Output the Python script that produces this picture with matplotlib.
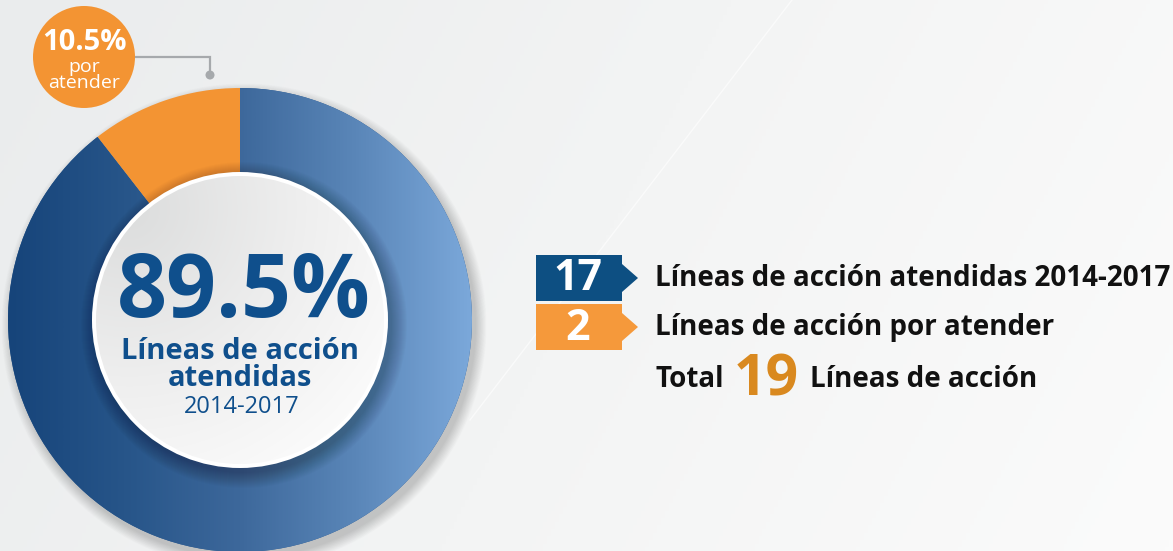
import numpy as np
import matplotlib
matplotlib.use("Agg")
import matplotlib.pyplot as plt
from matplotlib.patches import Circle, Polygon
from matplotlib.colors import LinearSegmentedColormap

plt.rcParams['font.family'] = ['Open Sans', 'DejaVu Sans']

# data
labels = ["Líneas de acción atendidas 2014-2017", "Líneas de acción por atender"]
counts = [17, 2]
center_title = ["Líneas de acción", "atendidas"]
period = "2014-2017"
badge_sub = ["por", "atender"]

total = sum(counts)
pcts = [100 * c / total for c in counts]

BLUE_DARK = "#0d4f82"
ORANGE = "#f39433"
TEXT_BLUE = "#0f4f8c"

W, H = 1173, 551
fig = plt.figure(figsize=(W / 100, H / 100), dpi=100)
ax = fig.add_axes([0, 0, 1, 1])


def Y(py):
    # pixel row (from top) -> data y
    return H - py


# background
bg = LinearSegmentedColormap.from_list("bg", ["#eaeced", "#f3f4f4", "#fbfbfb"])
gx = np.linspace(0, 1, 300)[None, :]
gy = np.linspace(0, 1, 150)[:, None]
ax.imshow(gx * 0.8 + gy * 0.2, extent=[0, W, 0, H], cmap=bg, aspect='auto', zorder=0)
ax.plot([792, 470], [Y(0), Y(420)], color="white", lw=1.0, alpha=0.6, zorder=0.5)

# donut geometry
cx, cy = 240, Y(320)
R, r_in = 232, 148

# outer soft shadow
for k in range(16):
    ax.add_patch(Circle((cx + 4, cy - 6), R + k * 0.7, facecolor="black",
                        edgecolor="none", alpha=0.012, zorder=0.8))

wedges, _ = ax.pie(counts, colors=["#2a5a90", ORANGE], startangle=90, counterclock=False,
                   radius=R, center=(cx, cy),
                   wedgeprops=dict(linewidth=0, edgecolor="none"))
for w in wedges:
    w.set_zorder(1)

# horizontal gradient on the blue part
ring_cmap = LinearSegmentedColormap.from_list(
    "ring", ["#16447a", "#275589", "#3d689b", "#5a86b8", "#7ba8da"])
grad = np.linspace(0, 1, 400)[None, :]
im = ax.imshow(grad, extent=[cx - R, cx + R, cy - R, cy + R], cmap=ring_cmap,
               aspect='auto', zorder=1.2)
im.set_clip_path(wedges[0])

# shadow cast by the inner disc onto the ring
outer_clip = Circle((cx, cy), R, transform=ax.transData)
for k in range(16):
    c = Circle((cx + 4, cy - 5), r_in + k, facecolor="black", edgecolor="none",
               alpha=0.014, zorder=1.5)
    ax.add_patch(c)
    c.set_clip_path(outer_clip)

# inner disc: white rim + soft grey radial fill
ax.add_patch(Circle((cx, cy), r_in, facecolor="white", edgecolor="none", zorder=2))
disc = Circle((cx, cy), r_in - 4, facecolor="none", edgecolor="none", zorder=2.1)
ax.add_patch(disc)
xx, yy = np.meshgrid(np.linspace(-1, 1, 300), np.linspace(-1, 1, 300))
d = np.hypot(xx + 0.75, yy - 0.75) / 2.4
disc_cmap = LinearSegmentedColormap.from_list("disc", ["#dcdddd", "#efefef", "#ffffff"])
im2 = ax.imshow(np.clip(d, 0, 1), extent=[cx - r_in, cx + r_in, cy - r_in, cy + r_in],
                origin='lower', cmap=disc_cmap, aspect='auto', zorder=2.2)
im2.set_clip_path(disc)

# center texts
ax.text(cx + 4, Y(317), f"{pcts[0]:.1f}%", ha="center", va="baseline",
        fontsize=63, fontweight="bold", color=TEXT_BLUE, zorder=3)
ax.text(cx, Y(365), "\n".join(center_title), ha="center", va="center",
        fontsize=21, fontweight="bold", color=TEXT_BLUE, linespacing=0.88,
        multialignment="center", zorder=3)
ax.text(cx + 2, Y(413), period, ha="center", va="baseline",
        fontsize=17, color=TEXT_BLUE, zorder=3)

# badge with leader line
bx, by, br = 84, Y(57), 51
ax.add_patch(Circle((bx, by), br, facecolor=ORANGE, edgecolor="none", zorder=3))
ax.plot([bx + br, 210, 210], [by, by, Y(72)], color="#a6a9ac", lw=1.6, zorder=2.5,
        solid_joinstyle="miter")
ax.add_patch(Circle((210, Y(75)), 4.5, facecolor="#a6a9ac", edgecolor="none", zorder=2.6))
ax.text(bx, Y(50), f"{pcts[1]:.1f}%", ha="center", va="baseline",
        fontsize=21, fontweight="bold", color="white", zorder=4)
ax.text(bx, Y(72), badge_sub[0], ha="center", va="baseline",
        fontsize=14, color="white", zorder=4)
ax.text(bx, Y(88), badge_sub[1], ha="center", va="baseline",
        fontsize=14, color="white", zorder=4)

# legend with arrow boxes
x0, x1, tip = 536, 622, 638
rows = [(255, 301, BLUE_DARK), (304, 350, "#f5993b")]
for (top, bot, col), n, lab in zip(rows, counts, labels):
    yc = (top + bot) / 2
    pts = [(x0, Y(top)), (x1, Y(top)), (x1, Y(yc - 14)), (tip, Y(yc)),
           (x1, Y(yc + 14)), (x1, Y(bot)), (x0, Y(bot))]
    ax.add_patch(Polygon(pts, closed=True, facecolor=col, edgecolor="none", zorder=3))
    ax.text(578, Y(yc + 1), str(n), ha="center", va="center", fontsize=31,
            fontweight="bold", color="white", zorder=4)
    ax.text(655, Y(yc + 1), lab, ha="left", va="center", fontsize=20,
            fontweight="bold", color="#111111", zorder=4)

ax.text(655, Y(387), "Total", ha="left", va="baseline", fontsize=20,
        fontweight="bold", color="#111111", zorder=4)
ax.text(734, Y(396), str(total), ha="left", va="baseline", fontsize=41,
        fontweight="bold", color="#d9891f", zorder=4)
ax.text(810, Y(387), "Líneas de acción", ha="left", va="baseline", fontsize=20,
        fontweight="bold", color="#111111", zorder=4)

ax.set_xlim(0, W)
ax.set_ylim(0, H)
ax.set_aspect('auto')
ax.axis('off')

fig.savefig("out.png", dpi=100)
